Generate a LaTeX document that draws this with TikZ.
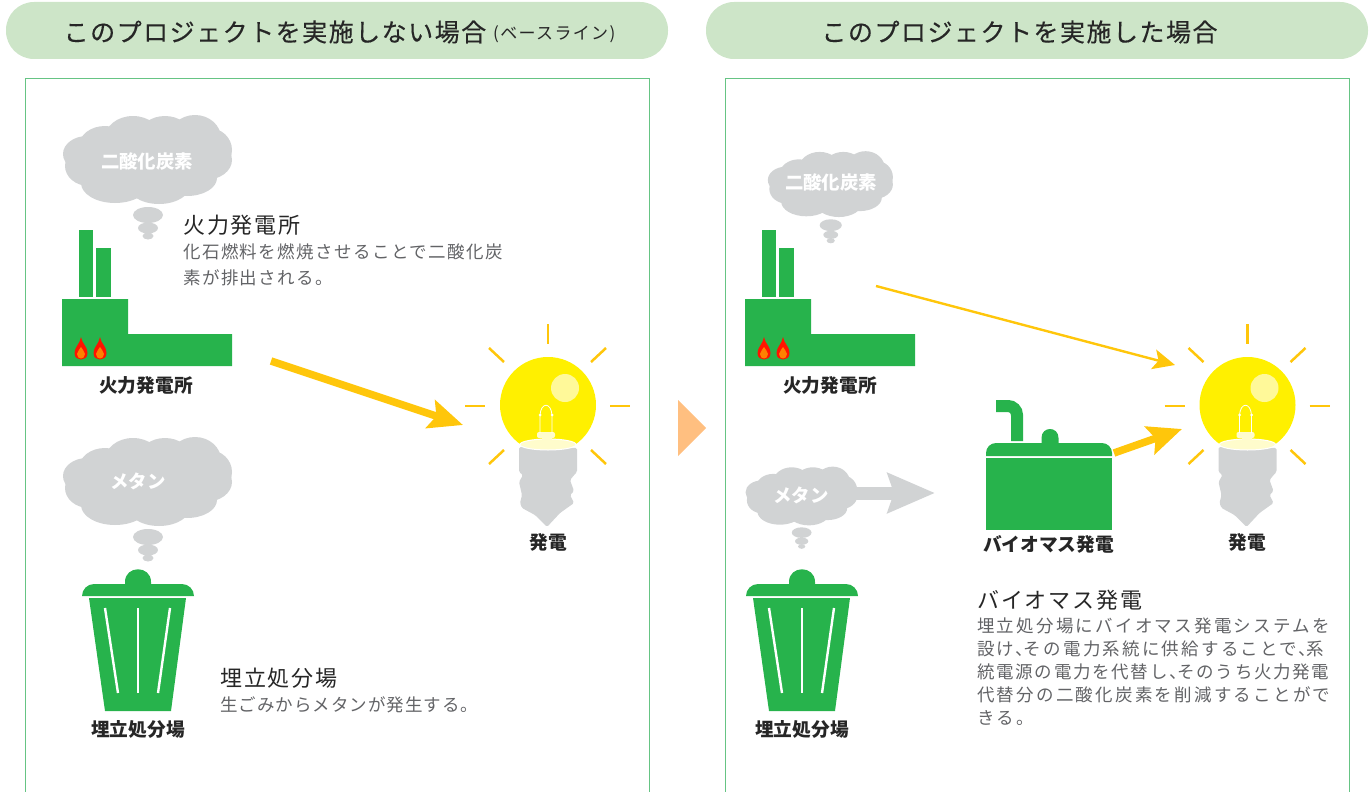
\documentclass[tikz,border=0pt]{standalone}
\usepackage{fontspec}
\setmainfont{Noto Sans CJK JP}
\newfontfamily\headfont[LetterSpace=6, FakeBold=0.25]{Noto Sans CJK JP}
\newfontfamily\notefont[LetterSpace=8]{Noto Sans CJK JP}
\newfontfamily\titlefont[LetterSpace=8.4]{Noto Sans CJK JP}
\newfontfamily\bodywide[LetterSpace=12.8]{Noto Sans CJK JP}
\newfontfamily\bodyfit[LetterSpace=9.8]{Noto Sans CJK JP}
\newfontfamily\bodyleft[LetterSpace=8.2]{Noto Sans CJK JP}
\newfontfamily\bodyshort[LetterSpace=5.8]{Noto Sans CJK JP}
\newcommand{\hcomma}{、\kern-9.5pt\relax}
\definecolor{leaf}{HTML}{27B34C}
\definecolor{panelgreen}{HTML}{66C484}
\definecolor{headgreen}{HTML}{CDE5C8}
\definecolor{smoke}{HTML}{D1D3D4}
\definecolor{amber}{HTML}{FFC60B}
\definecolor{lamp}{HTML}{FFF000}
\definecolor{bodygray}{HTML}{626366}
\usetikzlibrary{arrows.meta}
\tikzset{
  pics/smokecloud/.style={code={
    \foreach \cx/\cy/\rx/\ry in {-42/-12/26/20, -14/-20/28/22, 18/-22/26/20, 48/-20/26/23,
        62/-8/23/22, 58/2/27/20, 40/20/30/18, 12/26/32/20, -32/25/34/20, -58/8/24/20,
        -60/-4/24/18, 0/0/70/30, 1/57/15/8, 1/70/10/5.5, 1/78/5.5/3.5}
      \fill[smoke] (\cx,\cy) circle [x radius=\rx, y radius=\ry];
  }},
  pics/plant/.style={code={
    \fill[leaf] (17,-136) rectangle (31,-69);
    \fill[leaf] (34,-118) rectangle (49,-69);
    \fill[leaf] (0,-67) -- (66,-67) -- (66,-32) -- (170,-32) -- (170,0) -- (0,0) -- cycle;
    \foreach \fx in {19,38} {
      \fill[red!85!orange] (\fx,-29) .. controls (\fx+1,-22) and (\fx+6.5,-20) .. (\fx+6.5,-13)
        .. controls (\fx+6.5,-8) and (\fx+3,-6.5) .. (\fx,-6.5)
        .. controls (\fx-3,-6.5) and (\fx-6.5,-8) .. (\fx-6.5,-13)
        .. controls (\fx-6.5,-19) and (\fx-1,-22) .. (\fx,-29) -- cycle;
      \fill[orange] (\fx,-19) .. controls (\fx+1,-16) and (\fx+4,-15) .. (\fx+4,-12)
        .. controls (\fx+4,-9) and (\fx+2,-7.5) .. (\fx,-7.5)
        .. controls (\fx-2,-7.5) and (\fx-4,-9) .. (\fx-4,-12)
        .. controls (\fx-4,-15) and (\fx-1,-16) .. (\fx,-19) -- cycle;
    }
  }},
  pics/trashbin/.style={code={
    \fill[leaf] (-13,-52) -- (-13,-58) .. controls (-13,-75) and (13,-75) .. (13,-58) -- (13,-52) -- cycle;
    \fill[leaf] (-56,-44) [rounded corners=12pt] -- (-56,-56) -- (56,-56) [sharp corners] -- (56,-44) -- cycle;
    \fill[leaf] (-49,-42) -- (48,-42) -- (33,71) -- (-33,71) -- cycle;
    \draw[white, line width=2.4pt] (-33,-32) -- (-20,53);
    \draw[white, line width=2.4pt] (0,-32) -- (0,53);
    \draw[white, line width=2.4pt] (32,-32) -- (20,53);
  }},
  pics/lightbulb/.style={code={
    \foreach \ax/\ay/\bx/\by in {0/-81/0/-61, 62/1/82/1, -83/1/-63/1, -59/-57/-44/-43,
        58/-57/43/-43, -44/45/-59/59, 43/45/58/59}
      \draw[amber, line width=2.5pt] (\ax,\ay) -- (\bx,\by);
    \fill[lamp] (0,0) circle [radius=48];
    \fill[lamp!40!white] (17,-17) circle [radius=14];
    \fill[smoke, rounded corners=1.5pt] (-29,42) -- (-29,67) -- (-25,70) -- (-29,77) -- (-26,90) -- (-28,98)
      -- (-26,103) -- (-13,110) -- (-1,122) -- (12,108) -- (26,98) -- (22,90) -- (26,86) -- (22,75)
      -- (27,69) -- (29,67) -- (29,43) -- cycle;
    \filldraw[fill=lamp!20!white, draw=white, line width=1pt] (0,39.5) circle [x radius=28, y radius=5.5];
    \fill[lamp!20!white, rounded corners=2pt] (-11,27) rectangle (7,33);
    \fill[lamp!20!white] (-6,30) rectangle (4,37);
    \draw[white, line width=0.8pt] (-8,28) -- (-8,10) .. controls (-7,-3) and (3,-3) .. (4,10) -- (4,28);
    \fill[white] (-8,10) circle [radius=1.5];
    \fill[white] (4,10) circle [radius=1.5];
  }}
}
\begin{document}
\begin{tikzpicture}[x=1pt, y=-1pt]
  \tikzstyle{headbar}=[fill=headgreen, rounded corners=28pt]
  \tikzstyle{headtext}=[inner sep=0pt, font=\headfont\fontsize{25}{29}\selectfont, text=black!85]
  \tikzstyle{panel}=[draw=panelgreen, line width=0.9pt]
  \tikzstyle{partlabel}=[inner sep=0pt, font=\bfseries\fontsize{18.7}{22}\selectfont, text=black!85]
  \tikzstyle{cloudtext}=[inner sep=0pt, font=\bfseries\fontsize{18.4}{22}\selectfont, text=white]
  \tikzstyle{sectitle}=[inner sep=0pt, anchor=west, font=\titlefont\fontsize{22}{26}\selectfont, text=black!85]
  \tikzstyle{secbody}=[inner sep=0pt, anchor=north west, align=left, font=\fontsize{17.5}{23}\selectfont, text=bodygray]

  \clip (0,0) rectangle (1370,792);

  \fill[headbar] (6,2) rectangle (668,59);
  \fill[headbar] (706,2) rectangle (1368,59);
  \node[headtext, anchor=west] (headleft) at (63.5,32) {このプロジェクトを実施しない場合};
  \node[inner sep=0pt, anchor=west, font=\notefont\fontsize{17}{20}\selectfont, text=black!85] (headnote) at (493,34) {(ベースライン)};
  \node[headtext] (headright) at (1019.5,32) {このプロジェクトを実施した場合};

  \draw[panel] (25,800) -- (25,78) -- (649,78) -- (649,800);
  \draw[panel] (725,800) -- (725,78) -- (1349,78) -- (1349,800);
  \fill[orange!50!white] (678,400) -- (706,428) -- (678,456) -- cycle;

  \pic at (147,158) {smokecloud};
  \pic at (147,480) {smokecloud};
  \pic at (62,366) {plant};
  \pic at (138,640) {trashbin};
  \pic at (548,405) {lightbulb};
  \node[cloudtext] (co2left) at (147,161) {二酸化炭素};
  \node[cloudtext] (ch4left) at (138,481) {メタン};
  \node[partlabel] (plantleft) at (146,385) {火力発電所};
  \node[partlabel] (binleft) at (138,729) {埋立処分場};
  \node[partlabel] (powerleft) at (548,542) {発電};
  \node[sectitle] (titleplant) at (183,225) {火力発電所};
  \node[secbody, font=\fontsize{17.5}{26}\selectfont] (bodyplant) at (183,244) {\bodyleft 化石燃料を燃焼させることで二酸化炭\\\bodyleft 素が排出される。};
  \node[sectitle] (titlebin) at (220,678) {埋立処分場};
  \node[secbody] (bodybin) at (220,696) {\bodyshort 生ごみからメタンが発生する。};

  \coordinate (leftfrom) at (271,361);
  \coordinate (leftto) at (463,425);
  \draw[draw=amber, line width=7.5pt, -{Stealth[length=34pt, width=29pt, inset=6pt]}] (leftfrom) -- (leftto);

  \pic[scale=0.74] at (830,183) {smokecloud};
  \pic[scale=0.66] at (801,495) {smokecloud};
  \pic at (745,366) {plant};
  \pic at (802,640) {trashbin};
  \pic at (1247.5,405) {lightbulb};
  \node[cloudtext] (co2right) at (831,182) {二酸化炭素};
  \node[cloudtext] (ch4right) at (801,495) {メタン};
  \node[partlabel] (plantright) at (830,385) {火力発電所};
  \node[partlabel] (binright) at (802,729) {埋立処分場};
  \node[partlabel] (powerright) at (1247,542) {発電};

  \fill[leaf] (986,458) rectangle (1112,530);
  \fill[leaf] (1041.5,445) -- (1041.5,438) .. controls (1041.5,426) and (1058.5,426) .. (1058.5,438) -- (1058.5,445) -- cycle;
  \fill[leaf] (986,456) [rounded corners=10pt] -- (986,443) -- (1112,443) [sharp corners] -- (1112,456) -- cycle;
  \draw[leaf, line width=12pt, rounded corners=9pt] (1017,441) -- (1017,406) -- (996,406);
  \node[partlabel] (biogen) at (1048.5,544) {バイオマス発電};
  \node[sectitle] (titlebio) at (977,600) {バイオマス発電};
  \node[secbody] (bodybio) at (977,618) {\bodywide 埋立処分場にバイオマス発電システムを\\
    \bodywide 設け\hcomma その電力系統に供給することで\hcomma 系\\
    \bodyfit 統電源の電力を代替し\hcomma そのうち火力発電\\
    \bodywide 代替分の二酸化炭素を削減することがで\\
    \bodywide きる。};

  \coordinate (gridfrom) at (876,286);
  \coordinate (gridto) at (1175,365);
  \coordinate (ch4from) at (850,493);
  \coordinate (ch4to) at (935,493);
  \coordinate (biofrom) at (1114,453);
  \coordinate (bioto) at (1182,429);
  \draw[draw=amber, line width=2.4pt, -{Stealth[length=22pt, width=20pt, inset=5pt]}] (gridfrom) -- (gridto);
  \draw[draw=smoke, line width=13pt, -{Stealth[length=47pt, width=39pt, inset=6pt]}] (ch4from) -- (ch4to);
  \draw[draw=amber, line width=7.5pt, -{Stealth[length=34pt, width=29pt, inset=6pt]}] (biofrom) -- (bioto);
\end{tikzpicture}
\end{document}
